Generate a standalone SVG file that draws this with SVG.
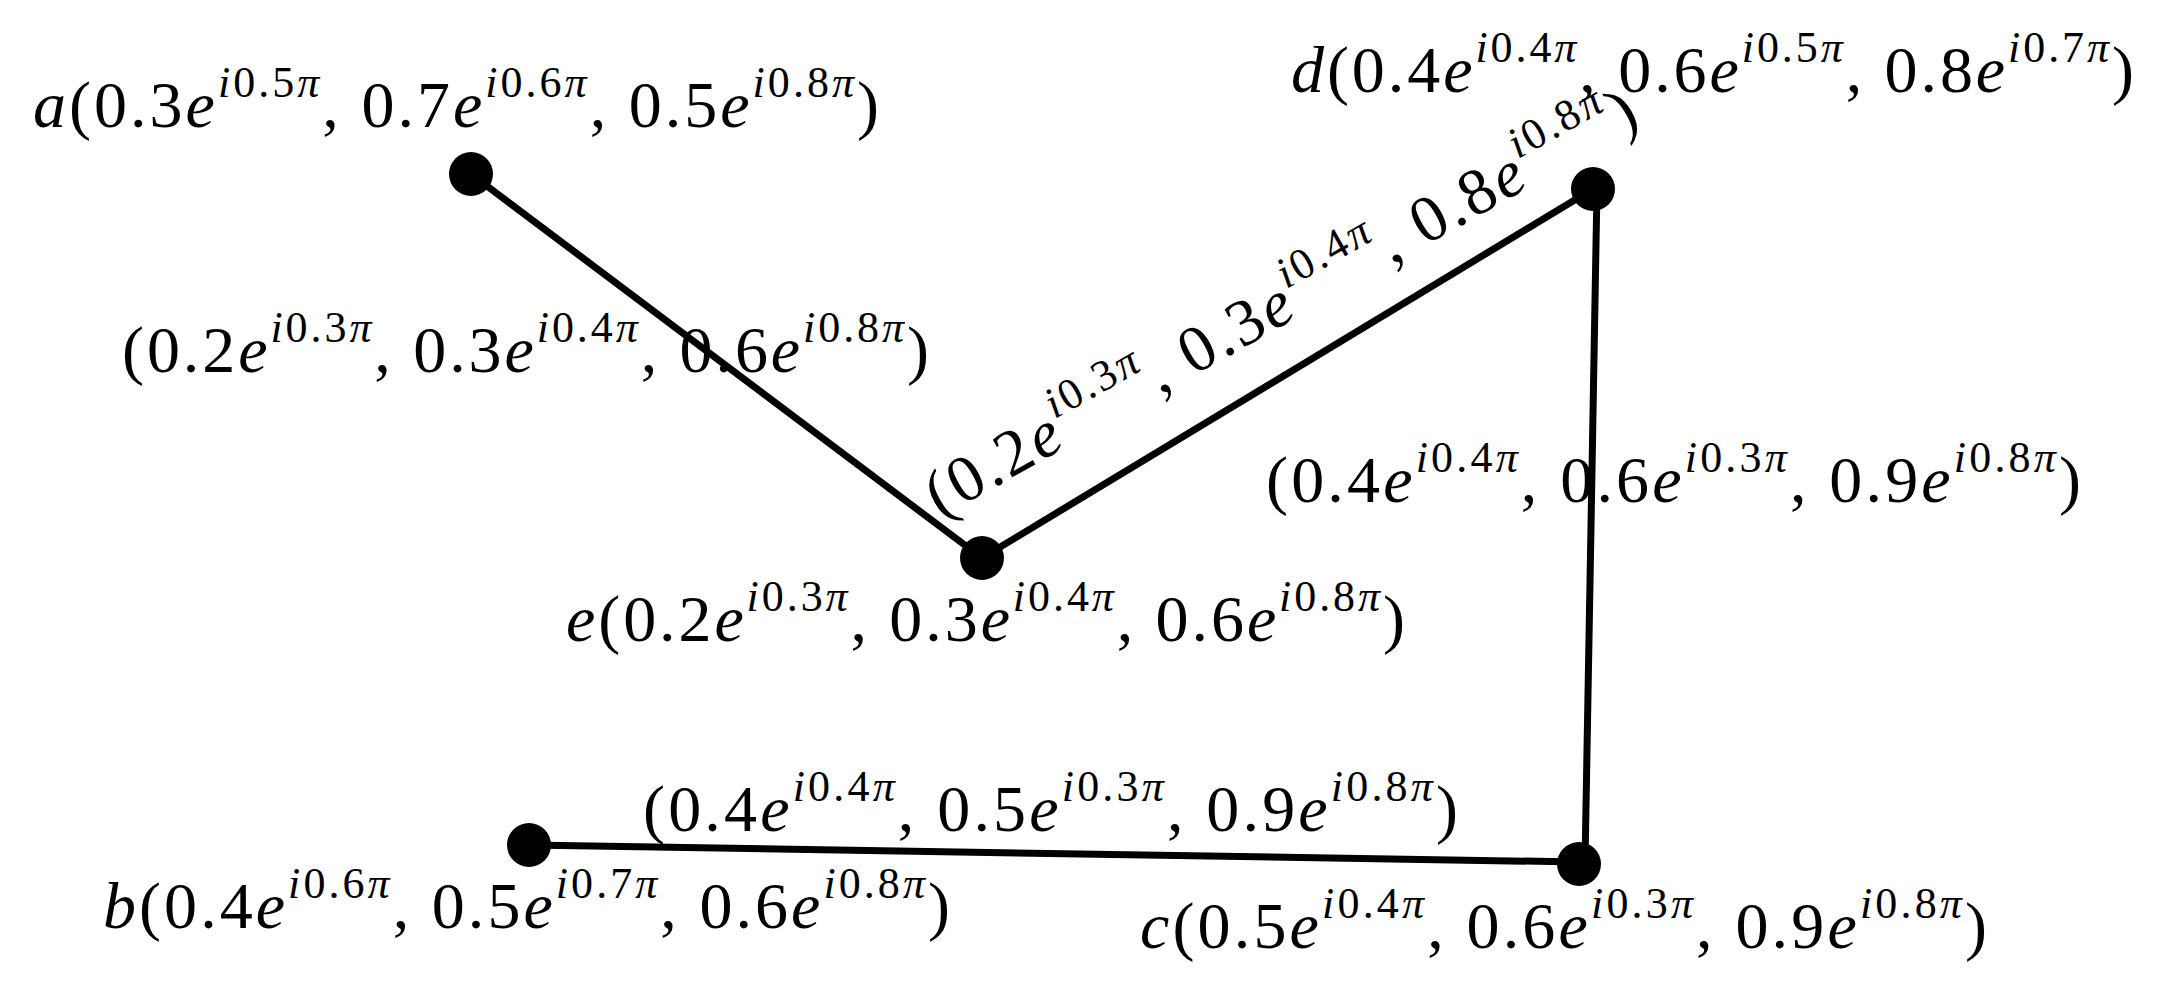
<svg xmlns="http://www.w3.org/2000/svg" width="2166" height="998" viewBox="0 0 2166 998">
<style>
.t{font-family:"Liberation Serif","Times New Roman",serif;font-size:66px;fill:#000}
.i{font-style:italic}
.s{font-size:44px}
.edge{stroke:#000;stroke-width:7;fill:none;stroke-linecap:round}
.node{fill:#000}
</style>
<rect width="2166" height="998" fill="#fff"/>
<g id="connectors">
<line class="edge" x1="471" y1="174" x2="982" y2="558"/>
<line class="edge" x1="982" y1="558" x2="1593" y2="189"/>
<line class="edge" x1="1597" y1="189" x2="1585" y2="863"/>
<line class="edge" x1="529" y1="845" x2="1579" y2="862"/>
<text class="t" x="122" y="372" textLength="807" lengthAdjust="spacing">(0.2<tspan class="i">e</tspan><tspan class="s" dy="-30"><tspan class="i">i</tspan>0.3<tspan class="i">π</tspan></tspan><tspan dy="30">, 0.3</tspan><tspan class="i">e</tspan><tspan class="s" dy="-30"><tspan class="i">i</tspan>0.4<tspan class="i">π</tspan></tspan><tspan dy="30">, 0.6</tspan><tspan class="i">e</tspan><tspan class="s" dy="-30"><tspan class="i">i</tspan>0.8<tspan class="i">π</tspan></tspan><tspan dy="30">)</tspan></text>
<text class="t" transform="translate(940,518) rotate(-29.3)" x="0" y="0" textLength="805" lengthAdjust="spacing">(0.2<tspan class="i">e</tspan><tspan class="s" dy="-30"><tspan class="i">i</tspan>0.3<tspan class="i">π</tspan></tspan><tspan dy="30">, 0.3</tspan><tspan class="i">e</tspan><tspan class="s" dy="-30"><tspan class="i">i</tspan>0.4<tspan class="i">π</tspan></tspan><tspan dy="30">, 0.8</tspan><tspan class="i">e</tspan><tspan class="s" dy="-30"><tspan class="i">i</tspan>0.8<tspan class="i">π</tspan></tspan><tspan dy="30">)</tspan></text>
<text class="t" x="1266" y="502" textLength="815" lengthAdjust="spacing">(0.4<tspan class="i">e</tspan><tspan class="s" dy="-30"><tspan class="i">i</tspan>0.4<tspan class="i">π</tspan></tspan><tspan dy="30">, 0.6</tspan><tspan class="i">e</tspan><tspan class="s" dy="-30"><tspan class="i">i</tspan>0.3<tspan class="i">π</tspan></tspan><tspan dy="30">, 0.9</tspan><tspan class="i">e</tspan><tspan class="s" dy="-30"><tspan class="i">i</tspan>0.8<tspan class="i">π</tspan></tspan><tspan dy="30">)</tspan></text>
<text class="t" x="643" y="831" textLength="815" lengthAdjust="spacing">(0.4<tspan class="i">e</tspan><tspan class="s" dy="-30"><tspan class="i">i</tspan>0.4<tspan class="i">π</tspan></tspan><tspan dy="30">, 0.5</tspan><tspan class="i">e</tspan><tspan class="s" dy="-30"><tspan class="i">i</tspan>0.3<tspan class="i">π</tspan></tspan><tspan dy="30">, 0.9</tspan><tspan class="i">e</tspan><tspan class="s" dy="-30"><tspan class="i">i</tspan>0.8<tspan class="i">π</tspan></tspan><tspan dy="30">)</tspan></text>
</g>
<g id="node-a">
<circle class="node" cx="471" cy="174" r="22"/>
<text class="t" x="33" y="127" textLength="846" lengthAdjust="spacing"><tspan class="i">a</tspan>(0.3<tspan class="i">e</tspan><tspan class="s" dy="-30"><tspan class="i">i</tspan>0.5<tspan class="i">π</tspan></tspan><tspan dy="30">, 0.7</tspan><tspan class="i">e</tspan><tspan class="s" dy="-30"><tspan class="i">i</tspan>0.6<tspan class="i">π</tspan></tspan><tspan dy="30">, 0.5</tspan><tspan class="i">e</tspan><tspan class="s" dy="-30"><tspan class="i">i</tspan>0.8<tspan class="i">π</tspan></tspan><tspan dy="30">)</tspan></text>
</g>
<g id="node-d">
<circle class="node" cx="1593" cy="189" r="22"/>
<text class="t" x="1291" y="92" textLength="843" lengthAdjust="spacing"><tspan class="i">d</tspan>(0.4<tspan class="i">e</tspan><tspan class="s" dy="-30"><tspan class="i">i</tspan>0.4<tspan class="i">π</tspan></tspan><tspan dy="30">, 0.6</tspan><tspan class="i">e</tspan><tspan class="s" dy="-30"><tspan class="i">i</tspan>0.5<tspan class="i">π</tspan></tspan><tspan dy="30">, 0.8</tspan><tspan class="i">e</tspan><tspan class="s" dy="-30"><tspan class="i">i</tspan>0.7<tspan class="i">π</tspan></tspan><tspan dy="30">)</tspan></text>
</g>
<g id="node-e">
<circle class="node" cx="982" cy="558" r="22"/>
<text class="t" x="566" y="641" textLength="839" lengthAdjust="spacing"><tspan class="i">e</tspan>(0.2<tspan class="i">e</tspan><tspan class="s" dy="-30"><tspan class="i">i</tspan>0.3<tspan class="i">π</tspan></tspan><tspan dy="30">, 0.3</tspan><tspan class="i">e</tspan><tspan class="s" dy="-30"><tspan class="i">i</tspan>0.4<tspan class="i">π</tspan></tspan><tspan dy="30">, 0.6</tspan><tspan class="i">e</tspan><tspan class="s" dy="-30"><tspan class="i">i</tspan>0.8<tspan class="i">π</tspan></tspan><tspan dy="30">)</tspan></text>
</g>
<g id="node-b">
<circle class="node" cx="529" cy="845" r="22"/>
<text class="t" x="103" y="928" textLength="847" lengthAdjust="spacing"><tspan class="i">b</tspan>(0.4<tspan class="i">e</tspan><tspan class="s" dy="-30"><tspan class="i">i</tspan>0.6<tspan class="i">π</tspan></tspan><tspan dy="30">, 0.5</tspan><tspan class="i">e</tspan><tspan class="s" dy="-30"><tspan class="i">i</tspan>0.7<tspan class="i">π</tspan></tspan><tspan dy="30">, 0.6</tspan><tspan class="i">e</tspan><tspan class="s" dy="-30"><tspan class="i">i</tspan>0.8<tspan class="i">π</tspan></tspan><tspan dy="30">)</tspan></text>
</g>
<g id="node-c">
<circle class="node" cx="1579" cy="864" r="22"/>
<text class="t" x="1140" y="948" textLength="847" lengthAdjust="spacing"><tspan class="i">c</tspan>(0.5<tspan class="i">e</tspan><tspan class="s" dy="-30"><tspan class="i">i</tspan>0.4<tspan class="i">π</tspan></tspan><tspan dy="30">, 0.6</tspan><tspan class="i">e</tspan><tspan class="s" dy="-30"><tspan class="i">i</tspan>0.3<tspan class="i">π</tspan></tspan><tspan dy="30">, 0.9</tspan><tspan class="i">e</tspan><tspan class="s" dy="-30"><tspan class="i">i</tspan>0.8<tspan class="i">π</tspan></tspan><tspan dy="30">)</tspan></text>
</g>
</svg>
